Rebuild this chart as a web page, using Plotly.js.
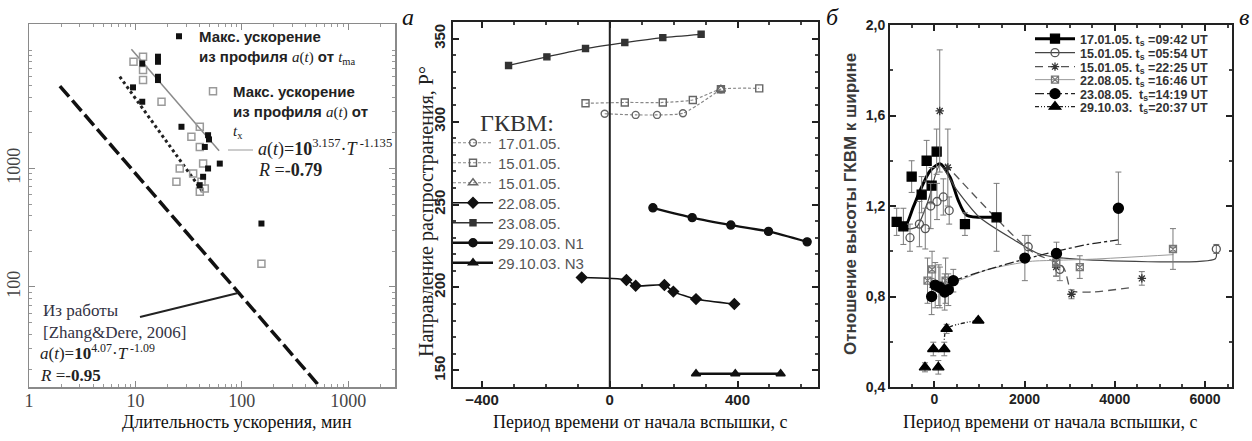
<!DOCTYPE html>
<html><head><meta charset="utf-8">
<script src="https://cdn.plot.ly/plotly-3.0.1.min.js"></script>
<style>html,body{margin:0;padding:0;background:#fff}#chart{width:1252px;height:441px}</style>
</head><body><div id="chart"></div>
<script>
// ---------- Panel a: acceleration vs duration (log-log) ----------
const aMaT = [11.6, 16.3, 16.3, 16.3, 16.3, 9.5, 11.6, 27.1, 48.2, 49.2, 44.9, 62.1, 48.2, 43.3, 40.2, 153];
const aMaA = [7700, 8790, 7960, 5950, 5580, 4840, 3660, 2250, 1910, 1760, 1520, 1100, 1000, 851, 723, 343];
const aXT = [11.8, 9.6, 11.8, 11.8, 17.6, 40.3, 33.6, 40.3, 43.3, 26.1, 34.9, 24.3, 41.8, 44.9, 40.3, 153];
const aXA = [8790, 7960, 6780, 5580, 3660, 2250, 1850, 1520, 1100, 1000, 907, 771, 771, 678, 635, 157];
const aZhangT = [1.95, 520];
const aZhangA = [4970, 15];
const aFitXT = [7.13, 43];
const aFitXA = [5960, 635];
const aFitMaT = [9.17, 61.2];
const aFitMaA = [10140, 1409];
const aXTicks = [1, 10, 100, 1000];
const aXTickText = ['1', '10', '100', '1000'];
const aYTicks = [100, 1000];
const aYTickText = ['100', '1000'];

// ---------- Panel b: propagation direction ----------
const bNames = ['17.01.05.', '15.01.05.', '15.01.05.', '22.08.05.', '23.08.05.', '29.10.03. N1', '29.10.03. N3'];
const b1701X = [-16, 81, 148, 229, 348];
const b1701Y = [304.7, 304.0, 304.0, 305.0, 319.5];
const b1501sX = [-76, 47, 166, 260, 348, 468];
const b1501sY = [311, 311.5, 311.5, 313, 319.5, 320];
const b1501tX = [348];
const b1501tY = [319.5];
const b2208X = [-88, 52, 81, 171, 199, 270, 390];
const b2208Y = [206, 204.5, 201, 201.5, 197.5, 193, 190];
const b2308X = [-317, -197, -76, 47, 166, 286];
const b2308Y = [333.8, 339, 344, 347.6, 350.6, 352.6];
const bN1X = [135, 258, 379, 497, 618];
const bN1Y = [248, 242.1, 237.6, 233.8, 227.5];
const bN3X = [270, 393, 535];
const bN3Y = [148, 148, 148];
const bXTicks = [-400, 0, 400];
const bYTicks = [150, 200, 250, 300, 350];

// ---------- Panel c: height/width ratio ----------
const cNames = ['17.01.05. t<sub>s</sub> =09:42 UT', '15.01.05. t<sub>s</sub> =05:54 UT', '15.01.05. t<sub>s</sub> =22:25 UT',
                '22.08.05. t<sub>s</sub> =16:46 UT', '23.08.05.  t<sub>s</sub>=14:19 UT', '29.10.03.  t<sub>s</sub>=20:37 UT'];
// markers with error bars
const c1X = [-834, -686, -502, -280, -170, -59, 52, 679, 1380];
const c1Y = [1.13, 1.11, 1.33, 1.25, 1.40, 1.29, 1.44, 1.12, 1.15];
const c1E = [0.06, 0.08, 0.07, 0.08, 0.09, 0.08, 0.10, 0.05, 0.15];
const c2X = [-539, -330, -200, -80, 60, 200, 330, 2081, 2782, 6251];
const c2Y = [1.06, 1.12, 1.10, 1.20, 1.22, 1.24, 1.18, 1.02, 0.92, 1.01];
const c2E = [0.06, 0.10, 0.09, 0.10, 0.08, 0.08, 0.06, 0.05, 0.05, 0.02];
const c3X = [120, 300, 2700, 3040, 4600];
const c3Y = [1.62, 1.37, 0.93, 0.81, 0.88];
const c3E = [0.27, 0.17, 0.04, 0.02, 0.03];
const c4X = [-150, -50, 100, 250, 2700, 3225, 5290];
const c4Y = [0.87, 0.92, 0.85, 0.87, 0.95, 0.93, 1.01];
const c4E = [0.10, 0.08, 0.09, 0.10, 0.06, 0.05, 0.09];
const c5X = [-59, 20, 125, 230, 310, 421, 2007, 2708, 4080];
const c5Y = [0.80, 0.85, 0.84, 0.82, 0.83, 0.87, 0.97, 0.99, 1.19];
const c5E = [0.08, 0.10, 0.09, 0.08, 0.07, 0.05, 0.10, 0.05, 0.16];
const c6X = [-207, 89, -22, 221, 273, 974];
const c6Y = [0.487, 0.487, 0.568, 0.568, 0.657, 0.694];
const c6E = [0.02, 0.03, 0.03, 0.03, 0.02, 0.01];
// fitted curves
const k1X = [-834, -649, -465, -280, -96, 125, 347, 531, 716, 1380];
const k1Y = [1.137, 1.11, 1.196, 1.284, 1.355, 1.387, 1.328, 1.225, 1.159, 1.151];
const k2X = [-834, -600, -391, -133, 125, 500, 1000, 1786, 2300, 3000, 6230, 6251];
const k2Y = [1.13, 1.10, 1.107, 1.225, 1.38, 1.27, 1.15, 1.048, 0.99, 0.967, 0.967, 1.0];
const k3X = [236, 2118, 2856, 3040, 3500, 4406];
const k3Y = [1.387, 1.004, 0.93, 0.827, 0.82, 0.841];
const k4X = [-100, 421, 1200, 2118, 2700, 3500, 5300];
const k4Y = [0.86, 0.864, 0.92, 0.955, 0.96, 0.965, 0.985];
const k5X = [421, 1200, 2007, 2708, 3400, 4080];
const k5Y = [0.87, 0.92, 0.965, 1.0, 1.03, 1.05];
const k6X = [221, 273, 974];
const k6Y = [0.568, 0.657, 0.694];
const cXTicks = [0, 2000, 4000, 6000];
const cYTicks = [0.4, 0.8, 1.2, 1.6, 2.0];
const cYTickText = ['0,4', '0,8', '1,2', '1,6', '2,0'];

// ---------- helpers ----------
const W = 1252, H = 441;
const fx = p => p / W;
const fy = p => 1 - p / H;
const serif = 'Liberation Serif, Times New Roman, serif';
const sans = 'Liberation Sans, Arial, sans-serif';
const sr = 'font-family:Liberation Serif;font-weight:normal;font-style:italic';
const sn = 'font-family:Liberation Serif;font-weight:normal';

const traces = [];

// Panel a
traces.push({x: aZhangT, y: aZhangA, xaxis: 'x', yaxis: 'y', mode: 'lines', showlegend: false,
  line: {color: '#111', width: 3.5, dash: '14px,5px'}});
traces.push({x: aFitXT, y: aFitXA, xaxis: 'x', yaxis: 'y', mode: 'lines', showlegend: false,
  line: {color: '#222', width: 3, dash: 'dot'}});
traces.push({x: aFitMaT, y: aFitMaA, xaxis: 'x', yaxis: 'y', mode: 'lines', showlegend: false,
  line: {color: '#8a8a8a', width: 1.5}});
traces.push({x: aXT, y: aXA, xaxis: 'x', yaxis: 'y', mode: 'markers', legend: 'legend9',
  name: 'Макс. ускорение<br>из профиля <span style="' + sr + '">a</span><span style="' + sn + '">(</span><span style="' + sr + '">t</span><span style="' + sn + '">)</span> от<br><span style="' + sr + '">t</span><sub style="' + sn + '">x</sub>',
  marker: {symbol: 'square-open', size: 7, color: '#9a9a9a', line: {width: 1.5, color: '#9a9a9a'}}});
traces.push({x: aMaT, y: aMaA, xaxis: 'x', yaxis: 'y', mode: 'markers', legend: 'legend8',
  name: 'Макс. ускорение<br>из профиля <span style="' + sr + '">a</span><span style="' + sn + '">(</span><span style="' + sr + '">t</span><span style="' + sn + '">)</span> от <span style="' + sr + '">t</span><sub style="' + sn + '">ma</sub>',
  marker: {symbol: 'square', size: 6, color: '#111'}});

// Panel b
const bSeries = [
  {x: b1701X, y: b1701Y, sym: 'circle-open', col: '#666', lc: '#888', lw: 1.2, dash: '3px,2px', ms: 7},
  {x: b1501sX, y: b1501sY, sym: 'square-open', col: '#666', lc: '#888', lw: 1.2, dash: '3px,2px', ms: 7},
  {x: b1501tX, y: b1501tY, sym: 'triangle-up-open', col: '#666', lc: '#888', lw: 1.2, dash: '3px,2px', ms: 8},
  {x: b2208X, y: b2208Y, sym: 'diamond', col: '#111', lc: '#111', lw: 1.6, dash: 'solid', ms: 8},
  {x: b2308X, y: b2308Y, sym: 'square', col: '#333', lc: '#333', lw: 1.3, dash: 'solid', ms: 6},
  {x: bN1X, y: bN1Y, sym: 'circle', col: '#111', lc: '#111', lw: 2.3, dash: 'solid', ms: 8},
  {x: bN3X, y: bN3Y, sym: 'triangle-up', col: '#111', lc: '#111', lw: 2.3, dash: 'solid', ms: 8}
];
const bLegendIds = ['legend', 'legend2', 'legend3', 'legend4', 'legend5', 'legend6', 'legend7'];
bSeries.forEach((s, i) => {
  traces.push({x: s.x, y: s.y, xaxis: 'x2', yaxis: 'y2', mode: 'lines+markers', name: bNames[i],
    legend: bLegendIds[i], line: {color: s.lc, width: s.lw, dash: s.dash, shape: 'spline', smoothing: 0.6},
    marker: {symbol: s.sym, size: s.ms, color: s.col, line: {color: s.col, width: 1.4}}});
});

// Panel c
const cStyle = [
  {lc: '#000', lw: 3, dash: 'solid', sym: 'square', ms: 9, mc: '#000'},
  {lc: '#444', lw: 1.2, dash: 'solid', sym: 'circle-open', ms: 8, mc: '#555'},
  {lc: '#555', lw: 1.3, dash: '8px,5px', sym: 'asterisk-open', ms: 7, mc: '#333'},
  {lc: '#9a9a9a', lw: 1, dash: 'solid', sym: 'square-x-open', ms: 7, mc: '#777'},
  {lc: '#222', lw: 1.3, dash: 'dashdot', sym: 'circle', ms: 10, mc: '#000'},
  {lc: '#222', lw: 1.3, dash: '4px,2px,1px,2px,1px,2px', sym: 'triangle-up', ms: 10, mc: '#000'}
];
const cCurves = [[k1X, k1Y], [k2X, k2Y], [k3X, k3Y], [k4X, k4Y], [k5X, k5Y], [k6X, k6Y]];
const cMarks = [[c1X, c1Y, c1E], [c2X, c2Y, c2E], [c3X, c3Y, c3E], [c4X, c4Y, c4E], [c5X, c5Y, c5E], [c6X, c6Y, c6E]];
cCurves.forEach((c, i) => {
  const s = cStyle[i];
  traces.push({x: c[0], y: c[1], xaxis: 'x3', yaxis: 'y3', mode: 'lines', showlegend: false,
    line: {color: s.lc, width: s.lw, dash: s.dash, shape: 'spline', smoothing: 0.7}});
});
cMarks.forEach((c, i) => {
  const s = cStyle[i];
  traces.push({x: c[0], y: c[1], xaxis: 'x3', yaxis: 'y3', mode: 'markers', showlegend: false,
    error_y: {type: 'data', array: c[2], color: '#7a7a7a', thickness: 1, width: 3},
    marker: {symbol: s.sym, size: s.ms, color: s.mc, line: {color: s.mc, width: 1.3}}});
});
const cLegendIds = ['legend10', 'legend11', 'legend12', 'legend13', 'legend14', 'legend15'];
cStyle.forEach((s, i) => {
  traces.push({x: [null], y: [null], xaxis: 'x3', yaxis: 'y3', mode: 'lines+markers', name: cNames[i],
    legend: cLegendIds[i], line: {color: s.lc, width: s.lw, dash: s.dash},
    marker: {symbol: s.sym, size: s.ms, color: s.mc, line: {color: s.mc, width: 1.3}}});
});

// ---------- layout ----------
const tr = 'rgba(0,0,0,0)';
function leg(xp, yp, font, extra) {
  return Object.assign({x: fx(xp), y: fy(yp), xanchor: 'left', yanchor: 'middle', bgcolor: tr,
    borderwidth: 0, itemwidth: 40, font: font, itemclick: false, itemdoubleclick: false}, extra || {});
}
const bFont = {family: sans, size: 15, color: '#555'};
const cFont = {family: sans, size: 12.5, color: '#333', weight: 'bold'};
const aFont = {family: sans, size: 15, color: '#222', weight: 'bold'};
const bLegY = [143, 163, 183, 203, 223, 243, 263];
const cLegY = [39, 53, 67, 80, 94, 107];

const layout = {
  width: W, height: H, margin: {l: 0, r: 0, t: 0, b: 0},
  paper_bgcolor: '#fff', plot_bgcolor: '#fff', showlegend: true,
  xaxis: {type: 'log', domain: [fx(29), fx(395)], range: [0, 3.44], anchor: 'y',
    tickmode: 'array', tickvals: aXTicks, ticktext: aXTickText,
    showline: true, linecolor: '#8a8a8a', linewidth: 1.5, mirror: 'allticks',
    ticks: 'inside', ticklen: 6, tickcolor: '#8a8a8a', showgrid: false, zeroline: false,
    ticklabelstandoff: -3,
    tickfont: {family: serif, size: 18, color: '#444'},
    minor: {ticks: 'inside', ticklen: 3, tickcolor: '#999', dtick: 'D1', showgrid: false}},
  yaxis: {type: 'log', domain: [fy(387), fy(24)], range: [1.155, 4.22], anchor: 'x',
    tickmode: 'array', tickvals: aYTicks, ticktext: aYTickText, tickangle: -90,
    showline: true, linecolor: '#8a8a8a', linewidth: 1.5, mirror: 'allticks',
    ticks: 'inside', ticklen: 6, tickcolor: '#8a8a8a', showgrid: false, zeroline: false,
    tickfont: {family: serif, size: 18, color: '#444'},
    minor: {ticks: 'inside', ticklen: 3, tickcolor: '#999', dtick: 'D1', showgrid: false}},
  xaxis2: {domain: [fx(453), fx(818)], range: [-491, 652], anchor: 'y2',
    tickmode: 'array', tickvals: bXTicks,
    showline: true, linecolor: '#222', linewidth: 2, mirror: 'allticks',
    ticks: 'inside', ticklen: 6, tickwidth: 2, tickcolor: '#222', showgrid: false, zeroline: false,
    ticklabelstandoff: -2,
    tickfont: {family: sans, size: 15, color: '#222', weight: 'bold'},
    minor: {ticks: 'inside', ticklen: 3, tickcolor: '#444', dtick: 100, tick0: 0, showgrid: false}},
  yaxis2: {domain: [fy(387), fy(22)], range: [140, 360], anchor: 'x2',
    tickmode: 'array', tickvals: bYTicks, tickangle: -90,
    showline: true, linecolor: '#222', linewidth: 2, mirror: 'allticks',
    ticks: 'inside', ticklen: 6, tickwidth: 2, tickcolor: '#222', showgrid: false, zeroline: false,
    tickfont: {family: sans, size: 15, color: '#222', weight: 'bold'},
    minor: {ticks: 'inside', ticklen: 3, tickcolor: '#444', dtick: 10, tick0: 0, showgrid: false}},
  xaxis3: {domain: [fx(890), fx(1232)], range: [-982, 6598], anchor: 'y3',
    tickmode: 'array', tickvals: cXTicks,
    showline: true, linecolor: '#222', linewidth: 2, mirror: 'allticks',
    ticks: 'inside', ticklen: 6, tickwidth: 2, tickcolor: '#222', showgrid: false, zeroline: false,
    ticklabelstandoff: -2,
    tickfont: {family: sans, size: 14, color: '#222', weight: 'bold'},
    minor: {ticks: 'inside', ticklen: 3, tickcolor: '#444', dtick: 500, tick0: 0, showgrid: false}},
  yaxis3: {domain: [fy(387), fy(25)], range: [0.4, 2.0], anchor: 'x3',
    tickmode: 'array', tickvals: cYTicks, ticktext: cYTickText,
    showline: true, linecolor: '#222', linewidth: 2, mirror: 'allticks',
    ticks: 'inside', ticklen: 6, tickwidth: 2, tickcolor: '#222', showgrid: false, zeroline: false,
    tickfont: {family: sans, size: 14, color: '#222', weight: 'bold'},
    minor: {ticks: 'inside', ticklen: 3, tickcolor: '#444', dtick: 0.2, tick0: 0, showgrid: false}},
  shapes: [
    {type: 'line', xref: 'x2', yref: 'y2 domain', x0: 0, x1: 0, y0: 0, y1: 1, line: {color: '#222', width: 2}},
    {type: 'line', xref: 'paper', yref: 'paper', x0: fx(228), x1: fx(253), y0: fy(150), y1: fy(150), line: {color: '#999', width: 1}},
    {type: 'line', xref: 'paper', yref: 'paper', x0: fx(140), x1: fx(238), y0: fy(317), y1: fy(293), line: {color: '#222', width: 2}}
  ],
  annotations: [
    {text: '<i>а</i>', x: fx(408), y: fy(17), font: {family: serif, size: 24, color: '#111'}},
    {text: '<i>б</i>', x: fx(832), y: fy(17), font: {family: serif, size: 24, color: '#111'}},
    {text: '<i>в</i>', x: fx(1244), y: fy(17), font: {family: serif, size: 24, color: '#111'}},
    {text: 'Длительность ускорения, мин', x: fx(237), y: fy(422), font: {family: serif, size: 18, color: '#111'}},
    {text: 'Период времени от начала вспышки, с', x: fx(640), y: fy(422), font: {family: serif, size: 18, color: '#111'}},
    {text: 'Период времени от начала вспышки, с', x: fx(1050), y: fy(422), font: {family: serif, size: 18, color: '#111'}},
    {text: 'Направление распространения, P°', x: fx(427), y: fy(212), textangle: -90, font: {family: serif, size: 20, color: '#222'}},
    {text: '<b>Отношение высоты ГКВМ к ширине</b>', x: fx(850), y: fy(204), textangle: -90, font: {family: sans, size: 17, color: '#3a3a3a'}},
    {text: 'ГКВМ:', x: fx(478), y: fy(123), xanchor: 'left', font: {family: serif, size: 24, color: '#333'}},
    {text: '<i>a</i>(<i>t</i>)=<b>10</b><sup>3.157</sup>·<i>T</i><sup> -1.135</sup>', x: fx(256), y: fy(148), xanchor: 'left', font: {family: serif, size: 18, color: '#222'}},
    {text: '<i>R</i> =-<b>0.79</b>', x: fx(256), y: fy(170), xanchor: 'left', font: {family: serif, size: 18, color: '#222'}},
    {text: 'Из работы', x: fx(41), y: fy(310), xanchor: 'left', font: {family: serif, size: 17, color: '#334'}},
    {text: '[Zhang&amp;Dere, 2006]', x: fx(41), y: fy(332), xanchor: 'left', font: {family: serif, size: 17, color: '#334'}},
    {text: '<i>a</i>(<i>t</i>)=<b>10</b><sup>4.07</sup>·<i>T</i><sup> -1.09</sup>', x: fx(38), y: fy(352), xanchor: 'left', font: {family: serif, size: 17, color: '#222'}},
    {text: '<i>R</i> =-<b>0.95</b>', x: fx(38), y: fy(375), xanchor: 'left', font: {family: serif, size: 17, color: '#222'}}
  ].map(a => Object.assign({xref: 'paper', yref: 'paper', showarrow: false, xanchor: 'center', yanchor: 'middle'}, a)),
  legend8: leg(159, 20, aFont, {valign: 'top', itemwidth: 30, yanchor: 'top'}),
  legend9: leg(193, 75, aFont, {valign: 'top', itemwidth: 30, yanchor: 'top'})
};
bLegendIds.forEach((id, i) => { layout[id] = leg(448, bLegY[i], bFont); });
cLegendIds.forEach((id, i) => { layout[id] = leg(1030, cLegY[i], cFont); });

Plotly.newPlot('chart', traces, layout, {staticPlot: true, displayModeBar: false});
</script>
</body></html>
